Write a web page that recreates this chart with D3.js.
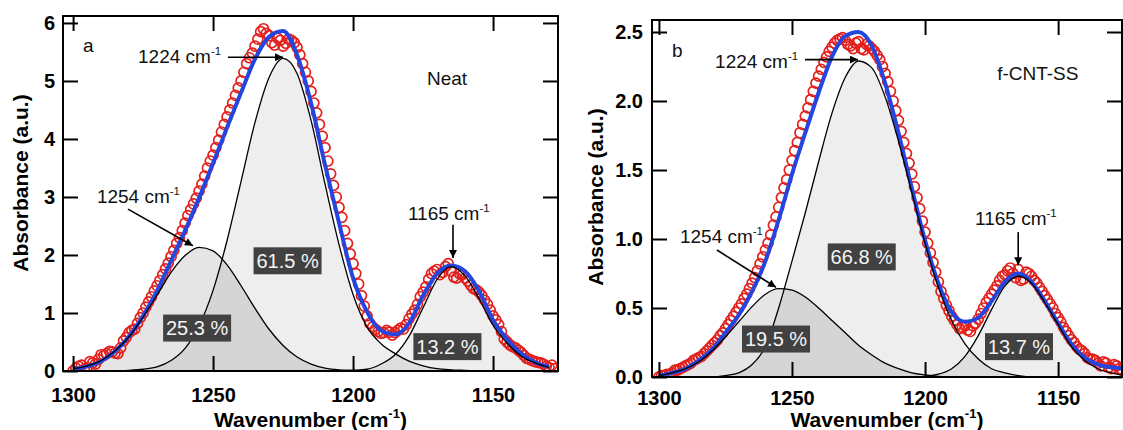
<!DOCTYPE html>
<html lang="en">
<head>
<meta charset="UTF-8">
<title>FTIR band deconvolution - Neat vs f-CNT-SS</title>
<script src="https://d3js.org/d3.v7.min.js"></script>
<style>
  body { margin: 0; background: #fff; }
  svg { font-family: Arial, "Liberation Sans", sans-serif; }
  .tick text { font-family: Arial, "Liberation Sans", sans-serif; font-size: 20px; font-weight: bold; fill: #000; }
  .tick line { stroke: #000; stroke-width: 2; }
  .frame { fill: none; stroke: #000; stroke-width: 2; }
  .title { font-size: 21px; font-weight: bold; fill: #000; }
  .note { font-size: 19px; fill: #111; }
  .fit { fill: none; stroke: #2446e0; stroke-width: 4; stroke-linejoin: round; }
  .comp { fill: none; stroke: #000; stroke-width: 1.3; }
  .pt { fill: none; stroke: #e3201b; stroke-width: 1.7; }
  .pct rect { fill: #414141; }
  .pct text { fill: #f4f4f4; font-size: 20px; text-anchor: middle; }
  .arrow { stroke: #000; stroke-width: 1.6; }
</style>
</head>
<body>
<svg width="1123" height="430"></svg>
<script>
// wavenumber grids (cm-1)
const gridWn = [1300, 1295, 1290, 1285, 1280, 1275, 1270, 1265, 1260, 1255, 1250, 1245,
                1240, 1235, 1230, 1225, 1220, 1215, 1210, 1205, 1200, 1195, 1190, 1185,
                1180, 1175, 1170, 1165, 1160, 1155, 1150, 1145, 1140, 1135, 1130, 1125];
const dataWn = [1300, 1299, 1298, 1297, 1296, 1295, 1294, 1293, 1292, 1291,
                1290, 1289, 1288, 1287, 1286, 1285, 1284, 1283, 1282, 1281,
                1280, 1279, 1278, 1277, 1276, 1275, 1274, 1273, 1272, 1271,
                1270, 1269, 1268, 1267, 1266, 1265, 1264, 1263, 1262, 1261,
                1260, 1259, 1258, 1257, 1256, 1255, 1254, 1253, 1252, 1251,
                1250, 1249, 1248, 1247, 1246, 1245, 1244, 1243, 1242, 1241,
                1240, 1239, 1238, 1237, 1236, 1235, 1234, 1233, 1232, 1231,
                1230, 1229, 1228, 1227, 1226, 1225, 1224, 1223, 1222, 1221,
                1220, 1219, 1218, 1217, 1216, 1215, 1214, 1213, 1212, 1211,
                1210, 1209, 1208, 1207, 1206, 1205, 1204, 1203, 1202, 1201,
                1200, 1199, 1198, 1197, 1196, 1195, 1194, 1193, 1192, 1191,
                1190, 1189, 1188, 1187, 1186, 1185, 1184, 1183, 1182, 1181,
                1180, 1179, 1178, 1177, 1176, 1175, 1174, 1173, 1172, 1171,
                1170, 1169, 1168, 1167, 1166, 1165, 1164, 1163, 1162, 1161,
                1160, 1159, 1158, 1157, 1156, 1155, 1154, 1153, 1152, 1151,
                1150, 1149, 1148, 1147, 1146, 1145, 1144, 1143, 1142, 1141,
                1140, 1139, 1138, 1137, 1136, 1135, 1134, 1133, 1132, 1131,
                1130, 1129, 1128, 1127, 1126];
const xTicks = [1300, 1250, 1200, 1150];
const aTicks = [0, 1, 2, 3, 4, 5, 6];
const bTicks = [0, 0.5, 1.0, 1.5, 2.0, 2.5];
const peaks = [1254, 1224, 1165];

// panel a: Neat
const aFit  = [0.03, 0.08, 0.17, 0.34, 0.60, 0.95, 1.38, 1.90, 2.42, 2.98, 3.58, 4.20,
               4.80, 5.38, 5.76, 5.86, 5.45, 4.62, 3.55, 2.55, 1.60, 1.02, 0.70, 0.63,
               0.82, 1.30, 1.68, 1.82, 1.72, 1.38, 0.88, 0.55, 0.30, 0.15, 0.07, null];
const a1254 = [0.04, 0.09, 0.18, 0.35, 0.59, 0.93, 1.31, 1.70, 1.99, 2.13, 2.07, 1.83,
               1.47, 1.08, 0.72, 0.44, 0.24, 0.12, 0.05, 0.02, 0.01, 0, 0, 0,
               0, 0, 0, 0, 0, 0, 0, 0, 0, 0, 0, null];
const a1224 = [0, 0, 0, 0, 0.01, 0.03, 0.07, 0.18, 0.39, 0.78, 1.39, 2.25,
               3.27, 4.29, 5.06, 5.39, 5.13, 4.32, 3.22, 2.18, 1.32, 0.76, 0.47, 0.30,
               0.17, 0.09, 0.04, 0.02, 0.01, 0, 0, 0, 0, 0, 0, null];
const a1165 = [0, 0, 0, 0, 0, 0, 0, 0, 0, 0, 0, 0,
               0, 0, 0, 0, 0, 0, 0, 0, 0.01, 0.03, 0.12, 0.28,
               0.60, 1.09, 1.58, 1.80, 1.64, 1.25, 0.79, 0.48, 0.26, 0.14, 0.06, null];
const aData = [0.00, 0.05, 0.08, 0.10, 0.03, 0.06, 0.16, 0.14, 0.12, 0.20,
               0.28, 0.27, 0.30, 0.34, 0.33, 0.31, 0.30, 0.40, 0.52, 0.58,
               0.66, 0.70, 0.72, 0.82, 0.92, 1.00, 1.10, 1.19, 1.28, 1.38,
               1.47, 1.56, 1.66, 1.76, 1.86, 1.97, 2.08, 2.20, 2.30, 2.42,
               2.55, 2.68, 2.78, 2.88, 2.98, 3.10, 3.22, 3.36, 3.50, 3.62,
               3.72, 3.85, 3.98, 4.12, 4.25, 4.38, 4.50, 4.62, 4.75, 4.88,
               5.00, 5.15, 5.30, 5.40, 5.48, 5.60, 5.72, 5.85, 5.90, 5.82,
               5.78, 5.66, 5.62, 5.74, 5.70, 5.60, 5.65, 5.72, 5.70, 5.66,
               5.58, 5.45, 5.30, 5.15, 5.00, 4.82, 4.62, 4.45, 4.25, 4.05,
               3.85, 3.62, 3.40, 3.20, 3.00, 2.82, 2.65, 2.42, 2.20, 2.02,
               1.85, 1.68, 1.50, 1.30, 1.12, 0.95, 0.82, 0.76, 0.72, 0.68,
               0.65, 0.66, 0.70, 0.67, 0.62, 0.66, 0.70, 0.74, 0.72, 0.80,
               0.90, 0.98, 1.05, 1.15, 1.28, 1.36, 1.45, 1.58, 1.68, 1.72,
               1.75, 1.66, 1.70, 1.80, 1.85, 1.72, 1.62, 1.60, 1.68, 1.66,
               1.60, 1.55, 1.48, 1.42, 1.40, 1.36, 1.30, 1.22, 1.15, 1.05,
               0.95, 0.88, 0.80, 0.68, 0.55, 0.50, 0.45, 0.42, 0.40, 0.36,
               0.32, 0.27, 0.22, 0.20, 0.18, 0.16, 0.15, 0.14, 0.12, 0.08,
               0.06, 0.10, 0.04, null, null];
const aShare = [25.3, 61.5, 13.2];

// panel b: f-CNT-SS
const bFit  = [0.01, 0.03, 0.06, 0.12, 0.20, 0.32, 0.45, 0.62, 0.84, 1.14, 1.47, 1.77,
               2.06, 2.32, 2.47, 2.50, 2.40, 2.13, 1.77, 1.37, 0.99, 0.68, 0.47, 0.40,
               0.43, 0.55, 0.69, 0.75, 0.69, 0.55, 0.39, 0.24, 0.14, 0.09, 0.07, 0.06];
const b1254 = [0.01, 0.03, 0.06, 0.11, 0.19, 0.29, 0.40, 0.51, 0.60, 0.64, 0.63, 0.58,
               0.50, 0.41, 0.32, 0.23, 0.16, 0.10, 0.06, 0.03, 0.015, 0.005, 0, 0,
               0, 0, 0, 0, 0, 0, 0, 0, 0, 0, 0, 0];
const b1224 = [0, 0, 0, 0, 0, 0.01, 0.03, 0.09, 0.22, 0.50, 0.84, 1.19,
               1.56, 1.91, 2.17, 2.29, 2.24, 2.03, 1.71, 1.34, 0.97, 0.65, 0.41, 0.24,
               0.13, 0.06, 0.03, 0.01, 0, 0, 0, 0, 0, 0, 0, 0];
const b1165 = [0, 0, 0, 0, 0, 0, 0, 0, 0, 0, 0, 0,
               0, 0, 0, 0, 0, 0, 0, 0, 0.005, 0.02, 0.06, 0.15,
               0.30, 0.49, 0.66, 0.73, 0.68, 0.54, 0.38, 0.22, 0.12, 0.06, 0.03, 0.01];
const bData = [0.00, 0.01, 0.01, 0.02, 0.02, 0.03, 0.05, 0.05, 0.06, 0.07,
               0.08, 0.09, 0.10, 0.12, 0.13, 0.14, 0.15, 0.17, 0.19, 0.21,
               0.23, 0.25, 0.27, 0.30, 0.32, 0.35, 0.38, 0.41, 0.44, 0.47,
               0.50, 0.53, 0.57, 0.60, 0.64, 0.68, 0.72, 0.77, 0.82, 0.87,
               0.92, 0.97, 1.03, 1.10, 1.16, 1.23, 1.30, 1.37, 1.43, 1.50,
               1.57, 1.64, 1.70, 1.77, 1.83, 1.89, 1.95, 2.01, 2.07, 2.13,
               2.18, 2.23, 2.28, 2.32, 2.36, 2.39, 2.42, 2.44, 2.45, 2.46,
               2.44, 2.41, 2.40, 2.38, 2.42, 2.43, 2.38, 2.37, 2.41, 2.40,
               2.38, 2.36, 2.33, 2.30, 2.25, 2.20, 2.14, 2.07, 2.00, 1.93,
               1.86, 1.78, 1.70, 1.62, 1.55, 1.47, 1.38, 1.30, 1.22, 1.13,
               1.05, 0.97, 0.90, 0.83, 0.76, 0.69, 0.62, 0.57, 0.52, 0.48,
               0.44, 0.41, 0.38, 0.35, 0.36, 0.37, 0.34, 0.33, 0.37, 0.39,
               0.42, 0.46, 0.50, 0.54, 0.57, 0.60, 0.63, 0.66, 0.70, 0.73,
               0.74, 0.77, 0.79, 0.75, 0.72, 0.78, 0.70, 0.71, 0.76, 0.75,
               0.73, 0.70, 0.68, 0.65, 0.62, 0.59, 0.56, 0.53, 0.50, 0.46,
               0.43, 0.40, 0.36, 0.33, 0.30, 0.27, 0.25, 0.22, 0.20, 0.19,
               0.17, 0.14, 0.13, 0.13, 0.12, 0.10, 0.08, 0.11, 0.10, 0.07,
               0.06, 0.09, 0.08, 0.06, 0.05];
const bShare = [19.5, 66.8, 13.7];

const svg = d3.select("svg");

svg.append("defs").append("marker")
    .attr("id", "head")
    .attr("viewBox", "0 0 10 10")
    .attr("refX", 10).attr("refY", 5)
    .attr("markerUnits", "userSpaceOnUse")
    .attr("markerWidth", 11).attr("markerHeight", 8)
    .attr("orient", "auto")
  .append("path").attr("d", "M0,0L10,5L0,10z").attr("fill", "#000");

const panels = [
    {
        id: "a", name: "Neat", letter: "a",
        left: 63, right: 558, top: 16, bottom: 371,
        xDomain: [1303.6, 1126.8], yDomain: [0, 6.12],
        yTicks: aTicks, yFormat: d3.format("d"), yPad: 8, xPad: 17,
        fit: aFit, data: aData, comps: [a1254, a1224, a1165], share: aShare,
        titleDx: 35, titleCy: 183,
        letterAt: [1296.5, 5.5], nameAt: [1173.6, 4.93],
        // label start, arrow start, arrow tip (data units)
        notes: [
            { text: [1291.5, 2.90], from: [1280.4, 2.79], to: [1257.2, 2.16] },
            { text: [1276.8, 5.31], from: [1244.7, 5.41], to: [1225.0, 5.41] },
            { text: [1180.4, 2.60], from: [1164.3, 2.52], to: [1164.3, 1.95] }
        ],
        pctAt: [[1255.7, 0.74], [1223.4, 1.90], [1166.3, 0.42]]
    },
    {
        id: "b", name: "f-CNT-SS", letter: "b",
        left: 652, right: 1122, top: 20, bottom: 377,
        xDomain: [1302.6, 1126.0], yDomain: [0, 2.587],
        yTicks: bTicks, yFormat: d3.format(".1f"), yPad: 9, xPad: 14,
        fit: bFit, data: bData, comps: [b1254, b1224, b1165], share: bShare,
        titleDx: 49, titleCy: 197,
        letterAt: [1295.1, 2.32], nameAt: [1172.9, 2.15],
        notes: [
            { text: [1292.1, 0.97], from: [1278.2, 0.92], to: [1256.0, 0.65] },
            { text: [1278.9, 2.24], from: [1245.1, 2.30], to: [1225.2, 2.30] },
            { text: [1181.2, 1.10], from: [1165.0, 1.05], to: [1165.0, 0.81] }
        ],
        pctAt: [[1256.0, 0.275], [1223.8, 0.87], [1164.7, 0.22]]
    }
];

const compFill = ["rgba(0,0,0,0.10)", "rgba(0,0,0,0.065)", "rgba(0,0,0,0.065)"];

function cmLabel(sel, number, size) {
    sel.append("tspan").text(number + " cm");
    sel.append("tspan").attr("dy", -size * 0.42).attr("font-size", size * 0.6).text("-1");
}

panels.forEach(p => {
    const x = d3.scaleLinear().domain(p.xDomain).range([p.left, p.right]);
    const y = d3.scaleLinear().domain(p.yDomain).range([p.bottom, p.top]);
    const g = svg.append("g");

    svg.select("defs").append("clipPath").attr("id", "clip-" + p.id)
      .append("rect")
        .attr("x", p.left).attr("y", p.top)
        .attr("width", p.right - p.left).attr("height", p.bottom - p.top);
    const plot = g.append("g").attr("clip-path", `url(#clip-${p.id})`);

    const area = d3.area()
        .defined(d => d[1] != null)
        .x(d => x(d[0])).y0(y(0)).y1(d => y(d[1]))
        .curve(d3.curveMonotoneX);
    const line = d3.line()
        .defined(d => d[1] != null)
        .x(d => x(d[0])).y(d => y(d[1]))
        .curve(d3.curveMonotoneX);

    const compPts = p.comps.map(c => gridWn.map((w, i) => [w, c[i]]));

    // component areas
    compPts.forEach((pts, i) => {
        plot.append("path").datum(pts).attr("d", area).attr("fill", compFill[i]);
    });

    // measured points
    const pts = dataWn.map((w, i) => [w, p.data[i]]).filter(d => d[1] != null);
    plot.selectAll("circle.pt").data(pts).enter().append("circle")
        .attr("class", "pt")
        .attr("cx", d => x(d[0])).attr("cy", d => y(d[1])).attr("r", 5);

    // fitted envelope
    plot.append("path").datum(gridWn.map((w, i) => [w, p.fit[i]]))
        .attr("class", "fit").attr("d", line);

    // component outlines
    compPts.forEach(pts => {
        plot.append("path").datum(pts).attr("class", "comp").attr("d", line);
    });

    // axes, ticks pointing inward on all four sides
    g.append("g").attr("transform", `translate(0,${p.bottom})`)
        .call(d3.axisBottom(x).tickValues(xTicks).tickSize(-15).tickPadding(p.xPad).tickFormat(d3.format("d")))
        .call(a => a.select(".domain").remove());
    g.append("g").attr("transform", `translate(0,${p.top})`)
        .call(d3.axisTop(x).tickValues(xTicks).tickSize(-15).tickFormat(""))
        .call(a => a.select(".domain").remove());
    g.append("g").attr("transform", `translate(${p.left},0)`)
        .call(d3.axisLeft(y).tickValues(p.yTicks).tickSize(-15).tickPadding(p.yPad).tickFormat(p.yFormat))
        .call(a => a.select(".domain").remove());
    g.append("g").attr("transform", `translate(${p.right},0)`)
        .call(d3.axisRight(y).tickValues(p.yTicks).tickSize(-15).tickFormat(""))
        .call(a => a.select(".domain").remove());
    g.append("rect").attr("class", "frame")
        .attr("x", p.left).attr("y", p.top)
        .attr("width", p.right - p.left).attr("height", p.bottom - p.top);

    // axis titles
    const xt = g.append("text").attr("class", "title")
        .attr("x", (p.left + p.right) / 2).attr("y", 427).attr("text-anchor", "middle");
    xt.append("tspan").text("Wavenumber (cm");
    xt.append("tspan").attr("dy", -9).attr("font-size", 13).text("-1");
    xt.append("tspan").attr("dy", 9).text(")");

    g.append("text").attr("class", "title")
        .attr("transform", `translate(${p.left - p.titleDx},${p.titleCy}) rotate(-90)`)
        .attr("text-anchor", "middle")
        .text("Absorbance (a.u.)");

    // panel letter and sample name
    g.append("text").attr("class", "note")
        .attr("x", x(p.letterAt[0])).attr("y", y(p.letterAt[1])).attr("font-size", 20).text(p.letter);
    g.append("text").attr("class", "note")
        .attr("x", x(p.nameAt[0])).attr("y", y(p.nameAt[1])).text(p.name);

    // peak annotations
    p.notes.forEach((n, i) => {
        cmLabel(g.append("text").attr("class", "note")
            .attr("x", x(n.text[0])).attr("y", y(n.text[1])), peaks[i], 19);
        g.append("line").attr("class", "arrow")
            .attr("x1", x(n.from[0])).attr("y1", y(n.from[1]))
            .attr("x2", x(n.to[0])).attr("y2", y(n.to[1]))
            .attr("marker-end", "url(#head)");
    });

    // area share labels
    p.share.forEach((s, i) => {
        const cx = x(p.pctAt[i][0]), cy = y(p.pctAt[i][1]);
        const lab = g.append("g").attr("class", "pct");
        lab.append("rect").attr("x", cx - 34).attr("y", cy - 13.5).attr("width", 68).attr("height", 27);
        lab.append("text").attr("x", cx).attr("y", cy + 7).text(s.toFixed(1) + " %");
    });
});
</script>
</body>
</html>
